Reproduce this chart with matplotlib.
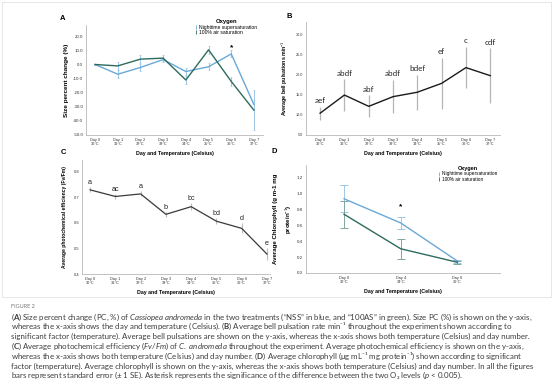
import matplotlib
matplotlib.use("Agg")
import matplotlib.pyplot as plt
from matplotlib.lines import Line2D
from matplotlib.patches import Rectangle
import numpy as np

plt.rcParams['font.family'] = ['Liberation Sans', 'DejaVu Sans']
plt.rcParams['mathtext.fontset'] = 'custom'
plt.rcParams['mathtext.rm'] = 'Lato'
plt.rcParams['mathtext.it'] = 'Lato:italic'
plt.rcParams['mathtext.bf'] = 'Lato:bold'

# ---------------- data ----------------
days = ["Day 0", "Day 1", "Day 2", "Day 3", "Day 4", "Day 5", "Day 6", "Day 7"]
temps = ["30°C", "31°C", "32°C", "33°C", "34°C", "35°C", "36°C", "37°C"]

# Panel A: size percent change
nss_pc = [0.0, -6.9, -2.1, 3.5, -5.0, -1.6, 7.5, -28.4]
nss_pc_se = [0.5, 3.0, 2.5, 2.0, 2.5, 2.5, 2.5, 3.0]
as_pc = [0.0, -1.0, 3.8, 4.5, -11.0, 10.4, -12.0, -32.4]
as_pc_se = [0.5, 3.0, 3.0, 2.0, 2.5, 3.0, 3.0, 14.2]

# Panel B: bell pulsations
pulse = [10.4, 14.9, 12.1, 14.5, 15.6, 17.8, 21.7, 19.7]
pulse_se = [1.6, 3.9, 2.7, 4.1, 4.3, 6.4, 5.1, 6.8]
pulse_letters = ["aef", "abdf", "abf", "abdf", "bdef", "ef", "c", "cdf"]

# Panel C: photochemical efficiency
fvfm = [0.730, 0.704, 0.714, 0.634, 0.664, 0.607, 0.579, 0.478]
fvfm_se = [0.010, 0.008, 0.010, 0.010, 0.015, 0.012, 0.020, 0.025]
fvfm_letters = ["a", "ac", "a", "b", "bc", "bd", "d", "e"]

# Panel D: chlorophyll
chl_days = ["Day 0", "Day 4", "Day 6"]
chl_temps = ["30°C", "34°C", "36°C"]
chl_nss = [0.935, 0.63, 0.15]
chl_nss_se = [0.17, 0.08, 0.02]
chl_as = [0.74, 0.305, 0.135]
chl_as_se = [0.17, 0.125, 0.02]

legend_title = "Oxygen"
legend_labels = ["Nighttime supersaturation", "100% air saturation"]

BLUE = '#6aa8d8'
GREEN = '#2e6b5e'
BLUE_ERR = '#9cc6e6'
GREEN_ERR = '#7fa8a0'
SPINE = '#b8b8b8'
TICKC = '#333333'

W, H = 554, 387
fig = plt.figure(figsize=(W / 100, H / 100), dpi=100)


def ax_box(l, t, r, b):
    return [l / W, 1 - b / H, (r - l) / W, (b - t) / H]


def style(ax, yfs=3.2, xfs=2.8):
    for s in ['top', 'right']:
        ax.spines[s].set_visible(False)
    for s in ['left', 'bottom']:
        ax.spines[s].set_color(SPINE)
        ax.spines[s].set_linewidth(0.6)
    ax.tick_params(length=0, pad=2, colors=TICKC)
    ax.tick_params(axis='y', labelsize=yfs)
    ax.tick_params(axis='x', labelsize=xfs)


xlabs = [f"{d}\n{t}" for d, t in zip(days, temps)]
x = np.arange(len(days))

# frame around the figure image
fig.patches.append(Rectangle((2 / W, 1 - 297 / H), 549 / W, 295 / H,
                             transform=fig.transFigure, fill=False,
                             edgecolor='#e2e2e2', linewidth=0.6))

# ---------------- Panel A ----------------
axA = fig.add_axes(ax_box(86, 25, 263, 135))
axA.errorbar(x, nss_pc, yerr=nss_pc_se, color=BLUE, ecolor=BLUE_ERR,
             elinewidth=0.7, capsize=0.8, capthick=0.5, lw=1.0)
axA.errorbar(x, as_pc, yerr=as_pc_se, color=GREEN, ecolor=BLUE_ERR,
             elinewidth=0.7, capsize=0.8, capthick=0.5, lw=1.0)
axA.set_xlim(-0.4, 7.4)
axA.set_ylim(-50, 28)
axA.set_yticks(np.arange(-50, 21, 10))
axA.set_yticklabels([f"{v:.1f}" for v in np.arange(-50, 21, 10)])
axA.set_xticks(x)
axA.set_xticklabels(xlabs)
style(axA)
axA.set_ylabel("Size percent change (%)", fontsize=4.6, fontweight='bold', labelpad=3)
axA.set_xlabel("Day and Temperature (Celsius)", fontsize=3.8, fontweight='bold',
               labelpad=3)
axA.text(6, nss_pc[6] + nss_pc_se[6] + 2.2, "*", ha='center', va='center',
         fontsize=6, fontweight='bold')
hA = [Line2D([], [], color=BLUE, marker='|', lw=0, markersize=3, markeredgewidth=0.6),
      Line2D([], [], color=GREEN, marker='|', lw=0, markersize=3, markeredgewidth=0.6)]
legA = fig.legend(hA, legend_labels, title=legend_title, loc='upper left',
                  bbox_to_anchor=(195 / W, 1 - 19 / H), bbox_transform=fig.transFigure,
                  frameon=False, fontsize=3.6, title_fontsize=4.2, borderpad=0,
                  handlelength=0.4, handletextpad=0.4, labelspacing=0.1,
                  borderaxespad=0)
legA.get_title().set_fontweight('bold')

# ---------------- Panel B ----------------
axB = fig.add_axes(ax_box(306, 22, 500, 135))
axB.errorbar(x, pulse, yerr=pulse_se, color='#1a1a1a', ecolor='#b5b5b5',
             elinewidth=0.9, capsize=0, lw=1.0)
axB.set_xlim(-0.58, 7.4)
axB.set_ylim(5, 33)
axB.set_yticks(np.arange(5, 31, 5))
axB.set_yticklabels([f"{v:.1f}" for v in np.arange(5, 31, 5)])
axB.set_xticks(x)
axB.set_xticklabels(xlabs)
style(axB, yfs=2.7)
axB.set_ylabel("Average bell pulsations min$^{-1}$", fontsize=3.8,
               fontweight='bold', labelpad=4)
axB.set_xlabel("Day and Temperature (Celsius)", fontsize=3.8, fontweight='bold',
               labelpad=3)
for xi, v, e, lab in zip(x, pulse, pulse_se, pulse_letters):
    axB.text(xi, v + e + 0.9, lab, ha='center', va='baseline', fontsize=5.8,
             family='Lato', color='#222222')

# ---------------- Panel C ----------------
axC = fig.add_axes(ax_box(82, 160, 270, 274))
axC.errorbar(x, fvfm, yerr=fvfm_se, color='#3a3a3a', ecolor='#bdbdbd',
             elinewidth=0.8, capsize=0, lw=0.9)
axC.set_xlim(-0.32, 7.12)
axC.set_ylim(0.4, 0.847)
axC.set_yticks([0.4, 0.5, 0.6, 0.7, 0.8])
axC.set_yticklabels(["0.4", "0.5", "0.6", "0.7", "0.8"])
axC.set_xticks(x)
axC.set_xticklabels(xlabs)
style(axC, yfs=3.0)
axC.set_ylabel("Average photochemical efficiency (Fv/Fm)", fontsize=3.6,
               fontweight='bold', labelpad=5)
axC.set_xlabel("Day and Temperature (Celsius)", fontsize=3.8, fontweight='bold',
               labelpad=3)
for xi, v, e, lab in zip(x, fvfm, fvfm_se, fvfm_letters):
    axC.text(xi, v + e + 0.012, lab, ha='center', va='baseline', fontsize=5.2,
             color='#222222')

# ---------------- Panel D ----------------
xd = np.arange(len(chl_days))
axD = fig.add_axes(ax_box(306, 165, 500, 273))
axD.errorbar(xd, chl_nss, yerr=chl_nss_se, color=BLUE, ecolor=BLUE_ERR,
             elinewidth=0.7, capsize=3, capthick=0.7, lw=1.0)
axD.errorbar(xd, chl_as, yerr=chl_as_se, color=GREEN, ecolor=GREEN_ERR,
             elinewidth=0.7, capsize=3, capthick=0.7, lw=1.0)
axD.set_xlim(-0.67, 2.75)
axD.set_ylim(0, 1.36)
axD.set_yticks(np.arange(0, 1.21, 0.2))
axD.set_yticklabels([f"{v:.1f}" for v in np.arange(0, 1.21, 0.2)])
axD.set_xticks(xd)
axD.set_xticklabels([f"{d}\n{t}" for d, t in zip(chl_days, chl_temps)])
style(axD, yfs=3.2)
axD.set_ylabel("Average Chlorophyll (g m-1 mg\nprotein$^{-1}$)", fontsize=4.4,
               fontweight='bold', labelpad=2, linespacing=1.9)
axD.set_xlabel("Day and Temperature (Celsius)", fontsize=3.8, fontweight='bold',
               labelpad=3)
axD.text(1, chl_nss[1] + chl_nss_se[1] + 0.13, "*", ha='center', va='center',
         fontsize=6, fontweight='bold')
hD = [Line2D([], [], color=BLUE, marker='|', lw=0, markersize=3, markeredgewidth=0.6),
      Line2D([], [], color=GREEN, marker='|', lw=0, markersize=3, markeredgewidth=0.6)]
legD = fig.legend(hD, legend_labels, title=legend_title, loc='upper left',
                  bbox_to_anchor=(438 / W, 1 - 166 / H), bbox_transform=fig.transFigure,
                  frameon=False, fontsize=3.4, title_fontsize=4.0, borderpad=0,
                  handlelength=0.4, handletextpad=0.4, labelspacing=0.1,
                  borderaxespad=0)
legD.get_title().set_fontweight('bold')

# panel letters
for lab, px, py in [("A", 63, 18), ("B", 289, 17), ("C", 63, 153), ("D", 274, 152)]:
    fig.text(px / W, 1 - py / H, lab, ha='center', va='center', fontsize=5.5,
             fontweight='bold')

# ---------------- caption ----------------
cap = [
    r"($\mathbf{A}$) Size percent change (PC, %) of $\mathit{Cassiopea\ andromeda}$ in the two treatments (“NSS” in blue, and “100AS” in green). Size PC (%) is shown on the y-axis,",
    r"whereas the x-axis shows the day and temperature (Celsius). ($\mathbf{B}$) Average bell pulsation rate min⁻¹ throughout the experiment shown according to",
    r"significant factor (temperature). Average bell pulsations are shown on the y-axis, whereas the x-axis shows both temperature (Celsius) and day number.",
    r"($\mathbf{C}$) Average photochemical efficiency ($\mathit{Fv/Fm}$) of $\mathit{C.\ andromeda}$ throughout the experiment. Average photochemical efficiency is shown on the y-axis,",
    r"whereas the x-axis shows both temperature (Celsius) and day number. ($\mathbf{D}$) Average chlorophyll (μg mL⁻¹ mg protein⁻¹) shown according to significant",
    r"factor (temperature). Average chlorophyll is shown on the y-axis, whereas the x-axis shows both temperature (Celsius) and day number. In all the figures",
    r"bars represent standard error (± 1 SE). Asterisk represents the significance of the difference between the two O₂ levels ($\mathit{p}$ < 0.005).",
]
fig.text(11 / W, 1 - 306 / H, "FIGURE 2", fontsize=4.0, color='#777777',
         family='Lato', va='center', ha='left')
for i, line in enumerate(cap):
    fig.text(11 / W, 1 - (317 + i * 9.8) / H, line, fontsize=5.7, color='#3c3c3c',
             family=['Lato', 'DejaVu Sans'], va='center', ha='left')

fig.savefig("out.png", dpi=100)
